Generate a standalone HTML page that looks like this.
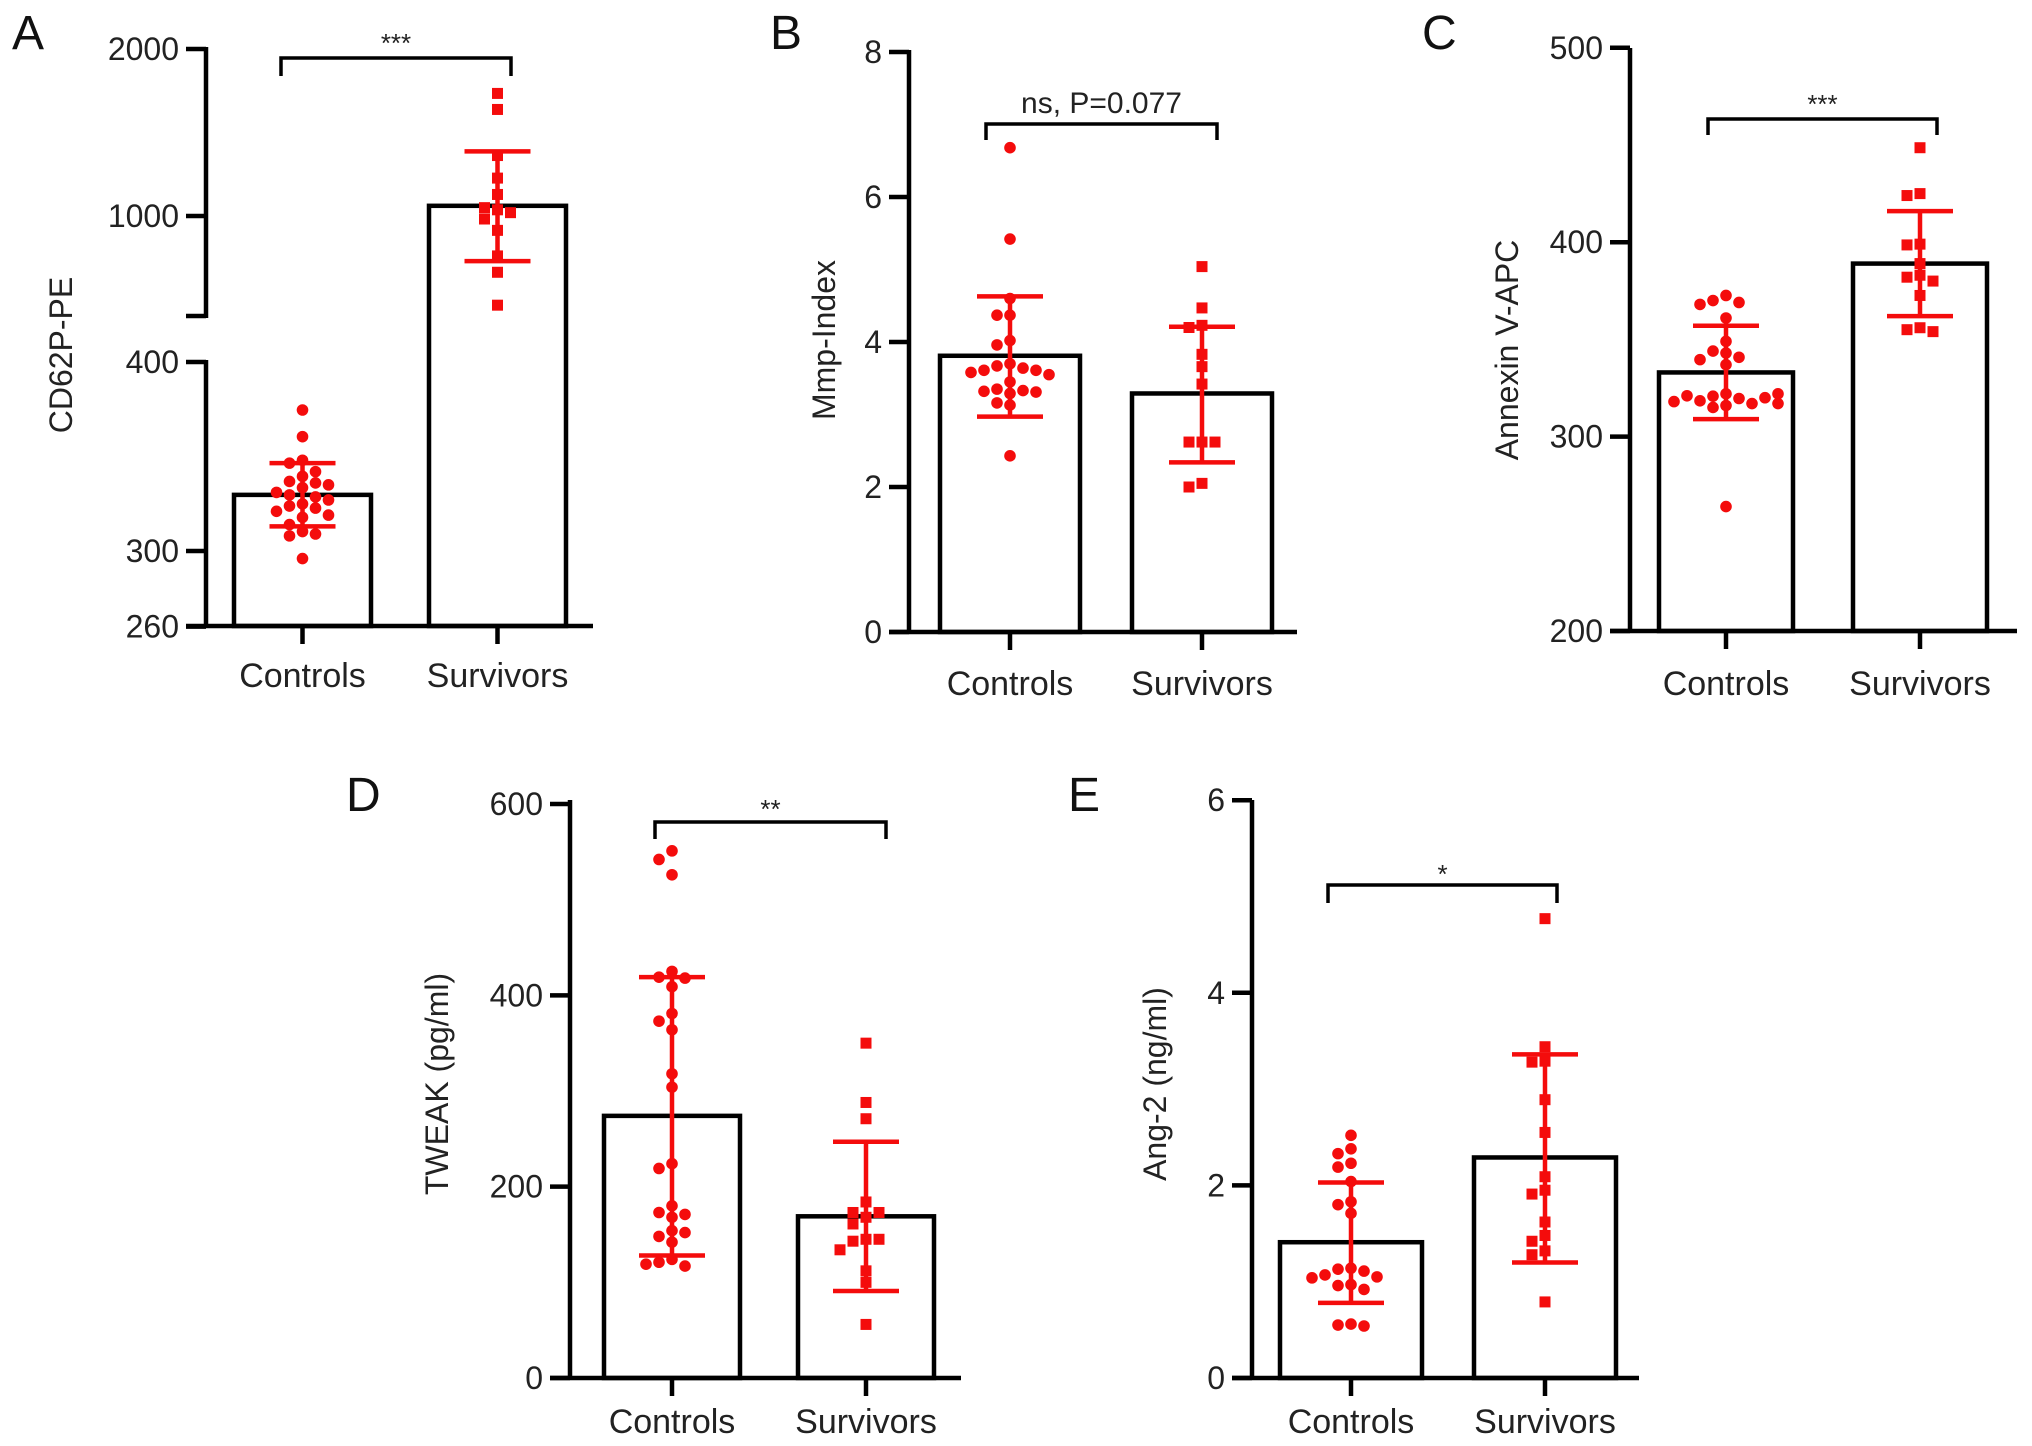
<!DOCTYPE html>
<html><head><meta charset="utf-8"><style>
html,body{margin:0;padding:0;background:#fff;}
svg{display:block;font-family:"Liberation Sans",Arial,sans-serif;}
</style></head><body>
<svg id="fig" width="2032" height="1446" viewBox="0 0 2032 1446" xmlns="http://www.w3.org/2000/svg"></svg>
<script>
// ---- data ----
const categories = ["Controls","Survivors"];
// Panel A (CD62P-PE)
const aCtrl = [374.6,360.5,348,346.5,339.5,336.8,336,333.5,329.7,328.6,324.9,323.8,322.7,321,317.8,314,310.3,309,308,296,331,327,335,319,342];
const aSurv = [1734,1638,1362,1227,1129,1037,982,914,761,663,466,1020,1050];
const aMean = [329.7,1061]; const aErrHi = [346.5,1387]; const aErrLo = [313,730];
const aTicks = [260,300,400,1000,2000];
// Panel B (Mmp-Index)
const bCtrl = [6.68,5.42,4.6,4.37,4.37,4.02,3.96,3.7,3.67,3.64,3.61,3.61,3.58,3.55,3.45,3.35,3.33,3.32,3.31,3.29,3.16,3.13,2.43];
const bSurv = [5.04,4.47,4.23,4.2,3.83,3.66,3.42,2.62,2.62,2.62,2.05,2.0];
const bMean = [3.81,3.29]; const bErrHi = [4.63,4.21]; const bErrLo = [2.97,2.34];
const bTicks = [0,2,4,6,8];
// Panel C (Annexin V-APC)
const cCtrl = [372.6,370,369,368,361,349,344,343,340.8,339.6,337,322,320.8,319.6,318.4,317,316,315,264,321,320,318,322,317];
const cSurv = [448.6,425,424,399,398.6,389,383,382,380,372.6,356,355,354];
const cMean = [333,389]; const cErrHi = [357,416]; const cErrLo = [309,362];
const cTicks = [200,300,400,500];
// Panel D (TWEAK)
const dCtrl = [551,542,526,425,419,418,409,381,373,364,318,304,224,219,180,173,171,168,154,148,152,142,124,121,117,119];
const dSurv = [350,288,271,184,173,173,168,161,145,143,145,134,112,100,56];
const dMean = [274,169]; const dErrHi = [419,247]; const dErrLo = [128,91];
const dTicks = [0,200,400,600];
// Panel E (Ang-2)
const eCtrl = [2.52,2.38,2.33,2.23,2.19,2.04,1.83,1.8,1.71,1.14,1.13,1.11,1.07,1.05,1.04,0.97,0.96,0.92,0.56,0.55,0.54];
const eSurv = [4.77,3.44,3.29,3.28,2.89,2.55,2.09,1.95,1.91,1.62,1.48,1.42,1.32,1.28,0.79];
const eMean = [1.41,2.29]; const eErrHi = [2.03,3.36]; const eErrLo = [0.78,1.2];
const eTicks = [0,2,4,6];

const NS="http://www.w3.org/2000/svg";
const svg=document.getElementById('fig');
function el(tag,attrs,parent,text){const e=document.createElementNS(NS,tag);for(const k in attrs)e.setAttribute(k,attrs[k]);if(text!==undefined)e.textContent=text;(parent||svg).appendChild(e);return e;}
const RED="#f40c0c";

function panel(cfg){
  const g=el('g',{});
  
  
  const y=cfg.y;
  const L=el('text',{x:cfg.letterX,y:cfg.letterY,'font-size':48,fill:'#111'},g,cfg.letter);
  
  
  const ax=el('g',{},g);
  
  
  cfg.axisSegs.forEach(s=>{el('line',{x1:cfg.ax,x2:cfg.ax,y1:s[0],y2:s[1],stroke:'#000','stroke-width':4.5},ax);});
  cfg.ticks.forEach(t=>{
    const ty=y(t);
    el('line',{x1:cfg.ax-20,x2:cfg.ax,y1:ty,y2:ty,stroke:'#000','stroke-width':4.5},ax);
    const tl=el('text',{x:cfg.ax-27,y:ty+11,'font-size':32,'text-anchor':'end',fill:'#222'},ax,String(t));
    
    
  });
  (cfg.extraTicks||[]).forEach(ty=>{el('line',{x1:cfg.ax-20,x2:cfg.ax,y1:ty,y2:ty,stroke:'#000','stroke-width':4.5},ax);});
  const yt=el('text',{x:0,y:0,'font-size':32,'text-anchor':'middle',fill:'#222',transform:`translate(${cfg.titleX},${cfg.titleY}) rotate(-90)`},g,cfg.title);
  
  
  const base=cfg.baseY;
  for(let i=0;i<2;i++){
    const b=el('rect',{x:cfg.barX[i],y:y(cfg.mean[i]),width:cfg.barW,height:base-y(cfg.mean[i]),fill:'none',stroke:'#000','stroke-width':4.5},g);
    
    
  }
  const xa=el('line',{x1:cfg.ax-20,x2:cfg.axEnd,y1:base,y2:base,stroke:'#000','stroke-width':4.5},g);
  
  
  for(let i=0;i<2;i++){
    const cx=cfg.barX[i]+cfg.barW/2;
    el('line',{x1:cx,x2:cx,y1:base,y2:base+18,stroke:'#000','stroke-width':4.5},g);
    const xl=el('text',{x:cx,y:cfg.xLabelY,'font-size':34,'text-anchor':'middle',fill:'#222'},g,categories[i]);
    
    
  }
  [cfg.ctrl,cfg.surv].forEach((arr,gi)=>{
    const cx=cfg.barX[gi]+cfg.barW/2;
    const pg=el('g',{},g);
    
    
    const placed=[];
    arr.forEach(v=>{
      const py=y(v);
      const offs=[0,-1,1,-2,2,-3,3,-4,4];
      let off=0;
      for(let k=0;k<offs.length;k++){off=offs[k]*13;if(!placed.some(p=>Math.abs(p[0]-off)<11&&Math.abs(p[1]-py)<11))break;}
      placed.push([off,py]);
      let m;
      if(gi===0){m=el('circle',{cx:cx+off,cy:py,r:5.8,fill:RED},pg);}
      else{m=el('rect',{x:cx+off-5.5,y:py-5.5,width:11,height:11,fill:RED},pg);}
      
      
    });
  });
  for(let i=0;i<2;i++){
    const cx=cfg.barX[i]+cfg.barW/2;
    const eg=el('g',{stroke:RED,'stroke-width':4.5},g);
    
    
    el('line',{x1:cx,x2:cx,y1:y(cfg.hi[i]),y2:y(cfg.lo[i])},eg);
    el('line',{x1:cx-33,x2:cx+33,y1:y(cfg.hi[i]),y2:y(cfg.hi[i])},eg);
    el('line',{x1:cx-33,x2:cx+33,y1:y(cfg.lo[i]),y2:y(cfg.lo[i])},eg);
  }
  const bg=el('g',{},g);
  
  
  const [bx1,bx2,by,bd]=cfg.bracket;
  el('polyline',{points:`${bx1},${bd} ${bx1},${by} ${bx2},${by} ${bx2},${bd}`,fill:'none',stroke:'#000','stroke-width':3.5},bg);
  const st=el('text',{x:(bx1+bx2)/2,y:cfg.sigY,'font-size':cfg.sigSize,'text-anchor':'middle',fill:'#222'},bg,cfg.sig);
  
  
}

function yA(v){ if(v>=410) return 216-(v-1000)*0.167; return 551-(v-300)*1.89; }
panel({letter:'A',letterX:12,letterY:49,ax:206,axEnd:593,baseY:626,y:yA,ticks:aTicks,extraTicks:[316],
  axisSegs:[[47,318],[360,628]],title:'CD62P-PE',titleX:72,titleY:355,barX:[234,429],barW:137,
  mean:aMean,hi:aErrHi,lo:aErrLo,ctrl:aCtrl,surv:aSurv,xLabelY:687,bracket:[281,511,58,76],sig:'***',sigY:52,sigSize:26});
function yB(v){return 632-v*72.5;}
panel({letter:'B',letterX:770,letterY:49,ax:909,axEnd:1297,baseY:632,y:yB,ticks:bTicks,axisSegs:[[50,634]],
  title:'Mmp-Index',titleX:835,titleY:340,barX:[940,1132],barW:140,mean:bMean,hi:bErrHi,lo:bErrLo,ctrl:bCtrl,surv:bSurv,
  xLabelY:695,bracket:[986,1217,124,140],sig:'ns, P=0.077',sigY:113,sigSize:30});
function yC(v){return 631-(v-200)*1.944;}
panel({letter:'C',letterX:1422,letterY:49,ax:1630,axEnd:2017,baseY:631,y:yC,ticks:cTicks,axisSegs:[[48,633]],
  title:'Annexin V-APC',titleX:1518,titleY:350,barX:[1659,1853],barW:134,mean:cMean,hi:cErrHi,lo:cErrLo,ctrl:cCtrl,surv:cSurv,
  xLabelY:695,bracket:[1708,1937,119,135],sig:'***',sigY:113,sigSize:26});
function yD(v){return 1378-v*0.9567;}
panel({letter:'D',letterX:346,letterY:811,ax:570,axEnd:961,baseY:1378,y:yD,ticks:dTicks,axisSegs:[[800,1380]],
  title:'TWEAK (pg/ml)',titleX:448,titleY:1084,barX:[604,798],barW:136,mean:dMean,hi:dErrHi,lo:dErrLo,ctrl:dCtrl,surv:dSurv,
  xLabelY:1433,bracket:[655,886,822,839],sig:'**',sigY:818,sigSize:26});
function yE(v){return 1378-v*96.3;}
panel({letter:'E',letterX:1068,letterY:811,ax:1252,axEnd:1639,baseY:1378,y:yE,ticks:eTicks,axisSegs:[[800,1380]],
  title:'Ang-2 (ng/ml)',titleX:1166,titleY:1084,barX:[1280,1474],barW:142,mean:eMean,hi:eErrHi,lo:eErrLo,ctrl:eCtrl,surv:eSurv,
  xLabelY:1433,bracket:[1328,1557,885,903],sig:'*',sigY:883,sigSize:26});
</script>
</body></html>
